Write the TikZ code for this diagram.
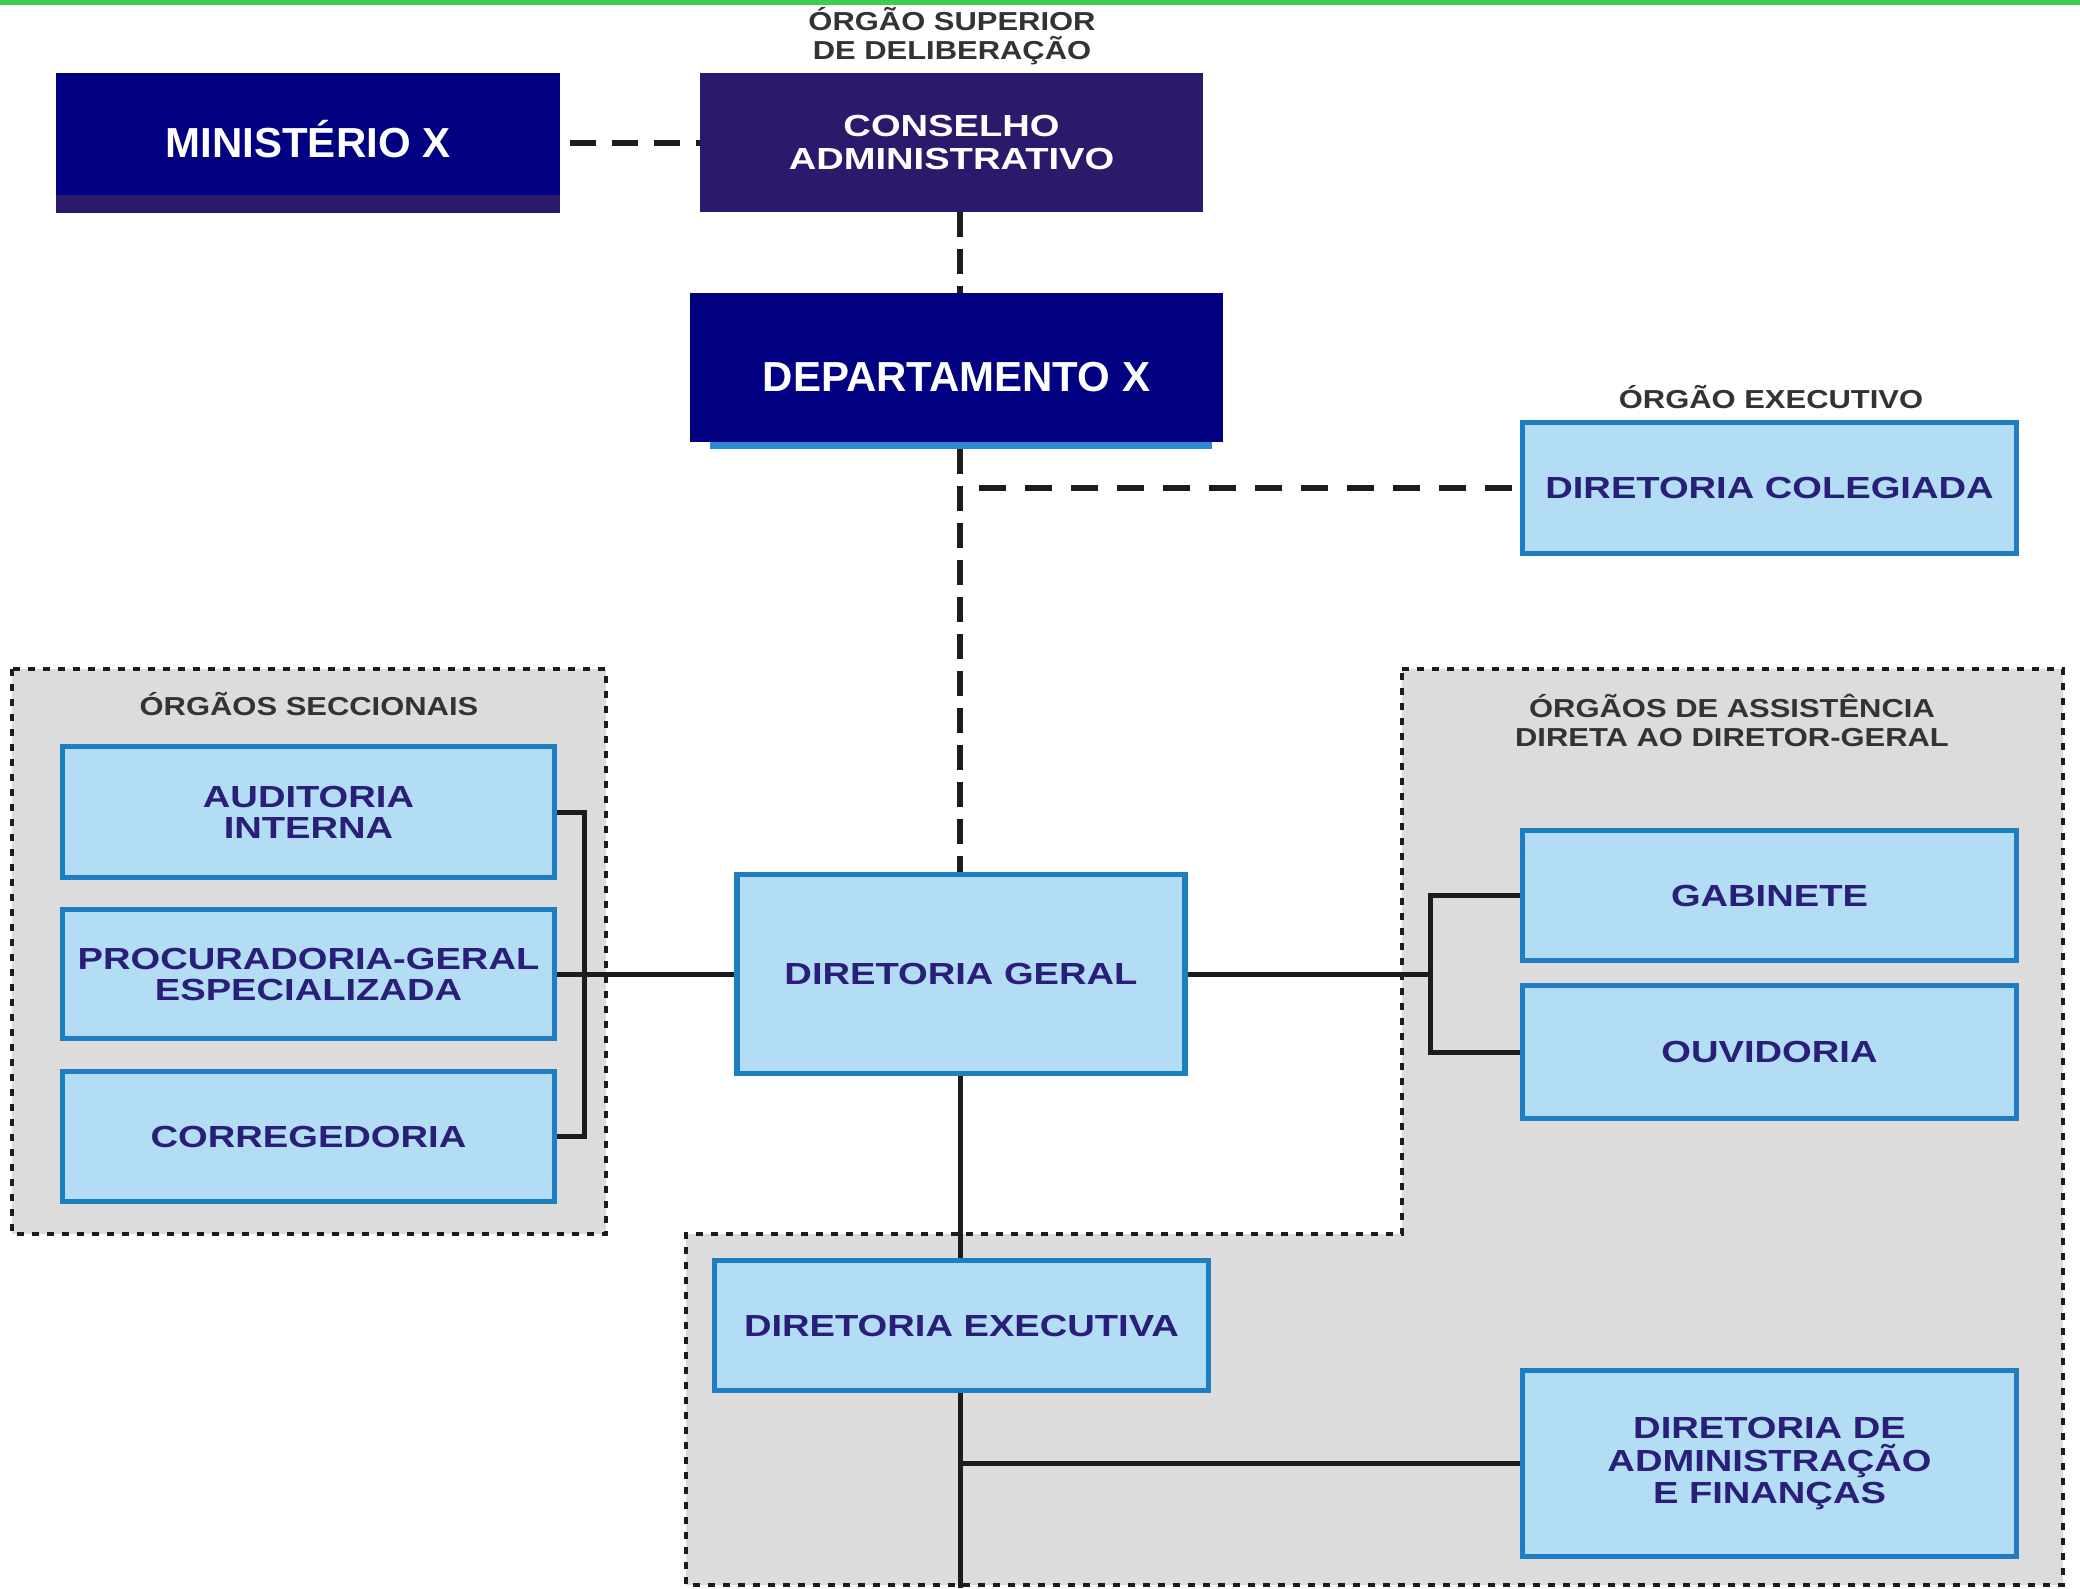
\documentclass[tikz,border=0pt]{standalone}
\usepackage{fontspec}
\setmainfont{Liberation Sans}
\newfontfamily\wfont[FakeStretch=1.25]{Liberation Sans}
\newfontfamily\lfont[FakeStretch=1.19]{Liberation Sans}
\definecolor{navyx}{HTML}{000080}
\definecolor{purp}{HTML}{2B1A6B}
\definecolor{lbfill}{HTML}{B3DCF5}
\definecolor{lbborder}{HTML}{1F7EC2}
\definecolor{txtc}{HTML}{2A1F78}
\definecolor{grpc}{HTML}{DCDCDC}
\definecolor{lblc}{HTML}{333333}
\definecolor{greenx}{HTML}{3CCF4B}
\definecolor{bandb}{HTML}{2A8AD0}
\definecolor{linec}{HTML}{1C1C1C}
\tikzset{
  lbox/.style={draw=lbborder, line width=5.5pt, fill=lbfill, text=txtc,
    font=\wfont\bfseries\fontsize{30.5}{31}\selectfont, align=center, inner sep=0pt},
  tbox/.style={text=white, font=\bfseries\fontsize{42}{44}\selectfont, inner sep=0pt, align=center},
  cbox/.style={text=white, font=\wfont\bfseries\fontsize{30.5}{33}\selectfont, inner sep=0pt, align=center},
  lbl/.style={text=lblc, font=\lfont\bfseries\fontsize{26}{29}\selectfont, align=center, inner sep=0pt},
  conn/.style={draw=linec, line width=5pt},
  dconn/.style={draw=linec, line width=6pt, dash pattern=on 26pt off 16pt},
  vconn/.style={draw=linec, line width=5.5pt, dash pattern=on 25pt off 12pt},
  hconn/.style={draw=linec, line width=6pt, dash pattern=on 27pt off 19pt},
  grpbox/.style={fill=grpc, draw=linec, line width=4.5pt, dash pattern=on 7pt off 8pt}
}
\begin{document}
\begin{tikzpicture}[x=1pt,y=-1pt]
\useasboundingbox (0,0) rectangle (2080,1588);
\fill[greenx] (0,0) rectangle (2080,5);
% group areas
\path[grpbox] (12,669) rectangle (606,1234);
\path[grpbox] (1402,669) -- (2063,669) -- (2063,1585) -- (686,1585) -- (686,1234) -- (1402,1234) -- cycle;

\coordinate (spine) at (960,0);
\coordinate (bl) at (584,974);
\coordinate (br) at (1430,974);
\coordinate (bot) at (960,1588);

% top
\node[lbl] (lsup) at (952,36) {ÓRGÃO SUPERIOR\\DE DELIBERAÇÃO};
\node[tbox, fill=purp, minimum width=504pt, minimum height=140pt, text depth=8pt,
  path picture={\fill[navyx] (path picture bounding box.north west) rectangle ([yshift=18pt]path picture bounding box.south east);}]
  (min) at (308,143) {MINISTÉRIO X};
\node[cbox, fill=purp, minimum width=503pt, minimum height=139pt] (cons) at (951.5,142.5) {CONSELHO\\ADMINISTRATIVO};
\node[tbox, fill=navyx, minimum width=533pt, minimum height=149pt, text height=48pt, text depth=0pt] (dep) at (956.5,367.5) {DEPARTAMENTO X};
\fill[bandb] ([xshift=20pt]dep.south west) rectangle ([xshift=-11pt,yshift=-7pt]dep.south east);

\node[lbl] (lexe) at (1771,397) {ÓRGÃO EXECUTIVO};
\node[lbox, minimum width=494pt, minimum height=131pt] (col) at (1769.5,488) {DIRETORIA COLEGIADA};

% left group
\node[lbl] (lsec) at (309,704) {ÓRGÃOS SECCIONAIS};
\node[lbox, minimum width=492pt, minimum height=131pt] (aud) at (308.5,812) {AUDITORIA\\INTERNA};
\node[lbox, minimum width=492pt, minimum height=129pt] (proc) at (308.5,974) {PROCURADORIA-GERAL\\ESPECIALIZADA};
\node[lbox, minimum width=492pt, minimum height=130pt] (corr) at (308.5,1136.5) {CORREGEDORIA};

% center
\node[lbox, minimum width=448pt, minimum height=199pt] (dg) at (961,974) {DIRETORIA GERAL};

% right group
\node[lbl] (lass) at (1732,720) {ÓRGÃOS DE ASSISTÊNCIA\\DIRETA AO DIRETOR-GERAL};
\node[lbox, minimum width=494pt, minimum height=130pt] (gab) at (1769.5,895.5) {GABINETE};
\node[lbox, minimum width=494pt, minimum height=133pt] (ouv) at (1769.5,1052) {OUVIDORIA};

% bottom
\node[lbox, minimum width=494pt, minimum height=130pt] (dexe) at (961.5,1325.5) {DIRETORIA EXECUTIVA};
\node[lbox, minimum width=494pt, minimum height=186pt, font=\wfont\bfseries\fontsize{30.5}{32.5}\selectfont] (daf) at (1769.5,1463.5) {DIRETORIA DE\\ADMINISTRAÇÃO\\E FINANÇAS};

% connectors
\draw[dconn] ([xshift=10pt]min.east) -- (min.east -| cons.west);
\draw[vconn] (cons.south -| spine) -- (dep.north -| spine);
\draw[vconn] ([yshift=-7pt]dep.south -| spine) -- (dg.north -| spine);
\draw[hconn] ([xshift=19pt]spine |- col.west) -- (col.west);
\draw[conn] (aud.east) -- (bl |- aud.east) -- (bl |- corr.east) -- (corr.east);
\draw[conn] (proc.east) -- (dg.west);
\draw[conn] (dg.east) -- (br);
\draw[conn] (gab.west) -- (br |- gab.west) -- (br |- ouv.west) -- (ouv.west);
\draw[conn] (dg.south -| spine) -- (dexe.north -| spine);
\draw[conn] (dexe.south -| spine) -- (bot);
\draw[conn] (spine |- daf.west) -- (daf.west);
\end{tikzpicture}
\end{document}
